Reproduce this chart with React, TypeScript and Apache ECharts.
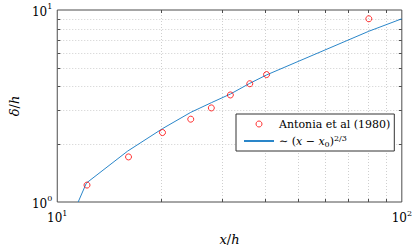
import React, { useEffect, useRef } from 'react';
import * as echarts from 'echarts';

// Antonia et al (1980) measurements
const antoniaX = [12.2, 16.1, 20.2, 24.4, 28.0, 31.8, 36.2, 40.5, 80.2];
const antoniaY = [1.225, 1.717, 2.3, 2.7, 3.09, 3.61, 4.13, 4.61, 9.0];
// ~ (x - x0)^(2/3) curve
const fitX = [11.5, 12.15, 16.0, 20.2, 24.4, 28.0, 31.8, 36.2, 40.5, 80.2, 100];
const fitY = [1.0, 1.255, 1.84, 2.41, 2.93, 3.29, 3.65, 4.15, 4.59, 7.75, 9.0];

const seriesNames = ['Antonia et al (1980)', 'fit'];
const xRange = [10, 100];
const yRange = [1, 10];
const xMinorTicks = [20, 30, 40, 50, 60, 70, 80, 90];
const yMinorTicks = [2, 3, 4, 5, 6, 7, 8, 9];

const SERIF = 'DejaVu Serif';
const AXIS_COLOR = '#4d4d4d';
const GRID_COLOR = '#cfcfcf';
const LINE_COLOR = '#2a86c9';

const px = (v: number) => Math.round(v) + 0.5;

export default function App() {
  const ref = useRef<HTMLDivElement>(null);
  useEffect(() => {
    if (!ref.current) return;
    const chart = echarts.init(ref.current, undefined, { renderer: 'svg' });
    const tickRich = {
      b: { fontFamily: SERIF, fontSize: 12, color: '#000', lineHeight: 15, verticalAlign: 'bottom' },
      s: { fontFamily: SERIF, fontSize: 8, color: '#000', lineHeight: 15, verticalAlign: 'top' },
    };
    const expLabel = (v: number) => `{b|10}{s|${Math.round(Math.log10(v))}}`;
    const italic = { fontFamily: SERIF, fontStyle: 'italic', fontSize: 13, color: '#000' };
    const plain = { fontFamily: SERIF, fontSize: 13, color: '#000' };

    const xGridItem = (params: any, api: any) => {
      const v = api.value(0);
      const b = api.coord([v, yRange[0]]);
      const t = api.coord([v, yRange[1]]);
      const x = px(b[0]);
      return {
        type: 'group',
        children: [
          { type: 'line', shape: { x1: x, y1: b[1], x2: x, y2: t[1] }, style: { stroke: GRID_COLOR, lineWidth: 1, lineDash: [1, 2] } },
          { type: 'line', shape: { x1: x, y1: b[1], x2: x, y2: b[1] - 3 }, style: { stroke: AXIS_COLOR, lineWidth: 1 } },
          { type: 'line', shape: { x1: x, y1: t[1], x2: x, y2: t[1] + 3 }, style: { stroke: AXIS_COLOR, lineWidth: 1 } },
        ],
      };
    };
    const yGridItem = (params: any, api: any) => {
      const v = api.value(1);
      const l = api.coord([xRange[0], v]);
      const r = api.coord([xRange[1], v]);
      const y = px(l[1]);
      return {
        type: 'group',
        children: [
          { type: 'line', shape: { x1: l[0], y1: y, x2: r[0], y2: y }, style: { stroke: GRID_COLOR, lineWidth: 1, lineDash: [1, 2] } },
          { type: 'line', shape: { x1: l[0], y1: y, x2: l[0] + 3, y2: y }, style: { stroke: AXIS_COLOR, lineWidth: 1 } },
          { type: 'line', shape: { x1: r[0], y1: y, x2: r[0] - 3, y2: y }, style: { stroke: AXIS_COLOR, lineWidth: 1 } },
        ],
      };
    };

    chart.setOption({
      animation: false,
      backgroundColor: '#fff',
      textStyle: { fontFamily: SERIF },
      grid: {
        left: 46, right: 11, top: 10, bottom: 45,
        show: true, borderColor: AXIS_COLOR, borderWidth: 1, backgroundColor: 'transparent',
      },
      xAxis: {
        type: 'log', logBase: 10, min: xRange[0], max: xRange[1],
        axisLine: { show: false }, axisTick: { show: false }, splitLine: { show: false },
        axisLabel: { formatter: expLabel, rich: tickRich, fontFamily: SERIF, margin: 7, showMinLabel: true, showMaxLabel: true },
        name: '{i|x}/{i|h}', nameLocation: 'middle', nameGap: 31,
        nameTextStyle: { rich: { i: italic }, ...plain },
      },
      yAxis: {
        type: 'log', logBase: 10, min: yRange[0], max: yRange[1],
        axisLine: { show: false }, axisTick: { show: false }, splitLine: { show: false },
        axisLabel: { formatter: expLabel, rich: tickRich, fontFamily: SERIF, margin: 5, showMinLabel: true, showMaxLabel: true },
        name: '{i|δ}/{i|h}', nameLocation: 'middle', nameGap: 29,
        nameTextStyle: { rich: { i: italic }, ...plain },
      },
      legend: {
        orient: 'vertical', left: 236, top: 114,
        data: [
          { name: seriesNames[0], icon: 'circle', itemStyle: { color: '#fff', borderColor: '#ff0000', borderWidth: 1 } },
          { name: seriesNames[1], itemStyle: { color: 'transparent', borderWidth: 0 } },
        ],
        itemWidth: 30, itemHeight: 6, itemGap: 3,
        backgroundColor: '#fff', borderColor: '#333', borderWidth: 1, borderRadius: 0,
        padding: [3, 4, 3, 7],
        formatter: (name: string) => (name === seriesNames[1] ? '∼ ({i|x} − {i|x}{sub|0}){sup|2/3}' : name),
        textStyle: {
          fontFamily: SERIF, fontSize: 11, color: '#000', lineHeight: 14,
          rich: {
            i: { fontFamily: SERIF, fontStyle: 'italic', fontSize: 11, color: '#000', lineHeight: 14 },
            sub: { fontFamily: SERIF, fontSize: 8, color: '#000', lineHeight: 10, verticalAlign: 'bottom' },
            sup: { fontFamily: SERIF, fontSize: 8, color: '#000', lineHeight: 10, verticalAlign: 'top' },
          },
        },
      },
      series: [
        {
          type: 'custom', silent: true, z: 1, clip: false,
          data: xMinorTicks.map((v) => [v, yRange[0]]),
          renderItem: xGridItem,
        },
        {
          type: 'custom', silent: true, z: 1, clip: false,
          data: yMinorTicks.map((v) => [xRange[0], v]),
          renderItem: yGridItem,
        },
        {
          name: seriesNames[0], type: 'scatter', z: 3,
          data: antoniaX.map((x, i) => [x, antoniaY[i]]),
          symbol: 'circle', symbolSize: 6,
          itemStyle: { color: 'transparent', borderColor: '#ff0000', borderWidth: 1 },
        },
        {
          name: seriesNames[1], type: 'line', z: 2, clip: true,
          data: fitX.map((x, i) => [x, fitY[i]]),
          symbol: 'none',
          lineStyle: { color: LINE_COLOR, width: 1 },
          itemStyle: { color: LINE_COLOR },
        },
      ],
    });
    return () => chart.dispose();
  }, []);
  return <div ref={ref} style={{ width: 415, height: 251, position: 'absolute', left: 0, top: 0 }} />;
}
